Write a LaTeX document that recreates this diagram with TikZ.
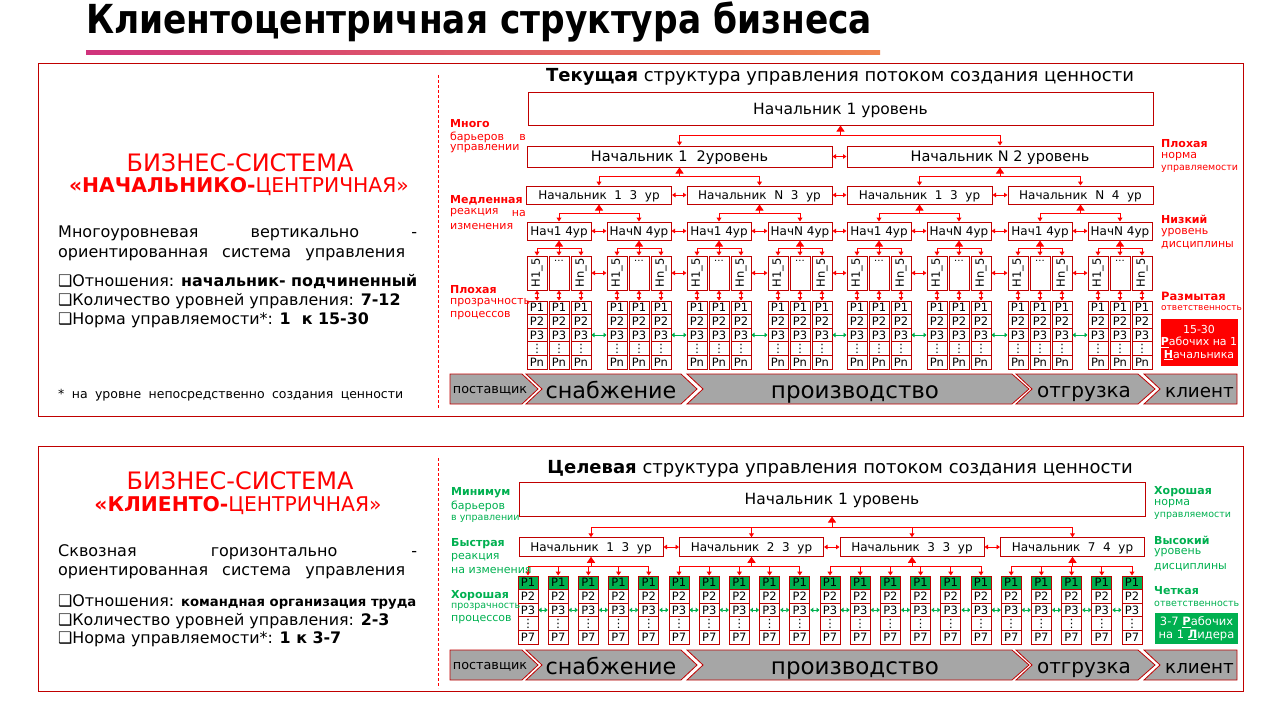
\documentclass[tikz,border=0pt]{standalone}
\usepackage{fontspec}
\setmainfont{DejaVu Sans}
\newfontfamily\ttlfont[FakeStretch=0.86]{DejaVu Sans}
\usetikzlibrary{arrows.meta}
\definecolor{dred}{HTML}{C00000}
\definecolor{bred}{HTML}{FF0000}
\definecolor{gr}{HTML}{00B050}
\definecolor{chev}{HTML}{A6A6A6}
\definecolor{gradA}{HTML}{D0337C}
\definecolor{gradB}{HTML}{F0844E}
\newcommand\fsz[1]{\fontsize{#1}{#1}\selectfont}
\begin{document}
\begin{tikzpicture}[x=1pt,y=-1pt,
  box/.style={draw=dred, line width=1pt, fill=white, inner sep=0pt, text=black, text depth=0pt},
  arr/.style={bred, line width=1pt, -{Triangle[width=5pt,length=4pt]}},
  uparr/.style={bred, line width=1pt, -{Triangle[width=8pt,length=6pt]}},
  dbl/.style={bred, line width=1pt, {Triangle[width=4.5pt,length=3.5pt]}-{Triangle[width=4.5pt,length=3.5pt]}},
  gdbl/.style={gr, line width=1pt, {Triangle[width=4.5pt,length=3pt]}-{Triangle[width=4.5pt,length=3pt]}},
  chevst/.style={draw=dred, line width=0.8pt, fill=chev},
  lab/.style={anchor=west, inner sep=0pt, font=\fontsize{11}{13}\selectfont},
  txt/.style={inner sep=0pt},
  ctxt/.style={inner sep=0pt, anchor=base}]
\useasboundingbox (0,0) rectangle (1280,720);

% ---------- title ----------
\node[txt, anchor=west, font=\ttlfont\bfseries\fsz{40}] (title) at (86,22) {Клиентоцентричная структура бизнеса};
\shade[left color=gradA, right color=gradB] (86,50.5) rectangle (880,54);

% ---------- panels ----------
\draw[dred, line width=1pt] (38,63) rectangle (1243,416);
\draw[dred, line width=1pt] (38,446) rectangle (1243,691);
\draw[bred, line width=0.8pt, dash pattern=on 3pt off 2pt] (438,75) -- (438,408);
\draw[bred, line width=0.8pt, dash pattern=on 3pt off 2pt] (438,458) -- (438,688);

% ---------- left texts top ----------
\node[txt, text=bred, font=\fsz{24}] (sysA) at (240,163) {БИЗНЕС-СИСТЕМА};
\node[txt, text=bred, font=\fsz{20.3}] (sysA2) at (239,187) {\textbf{«НАЧАЛЬНИКО-}ЦЕНТРИЧНАЯ»};
\node[txt, anchor=west, font=\fsz{16}] (dA1) at (58,233) {\makebox[359pt][s]{Многоуровневая вертикально -}};
\node[txt, anchor=west, font=\fsz{16}] (dA2) at (58,255) {\makebox[347pt][s]{ориентированная система управления}};
\node[txt, anchor=west, font=\fsz{15.9}] (lA1) at (58,282) {❑Отношения: \textbf{начальник- подчиненный}};
\node[txt, anchor=west, font=\fsz{15.9}] (lA2) at (58,301) {❑Количество уровней управления: \textbf{7-12}};
\node[txt, anchor=west, font=\fsz{15.9}] (lA3) at (58,320) {❑Норма управляемости*: \textbf{1~ к 15-30}};
\node[txt, anchor=west, font=\fsz{12.5}] (fnA) at (58,395) {\makebox[345pt][s]{* на уровне непосредственно создания ценности}};

% ---------- left texts bottom ----------
\node[txt, text=bred, font=\fsz{24}] (sysB) at (240,481) {БИЗНЕС-СИСТЕМА};
\node[txt, text=bred, font=\fsz{20.3}] (sysB2) at (238,506) {\textbf{«КЛИЕНТО-}ЦЕНТРИЧНАЯ»};
\node[txt, anchor=west, font=\fsz{16}] (dB1) at (58,552) {\makebox[359pt][s]{Сквозная горизонтально -}};
\node[txt, anchor=west, font=\fsz{16}] (dB2) at (58,573) {\makebox[347pt][s]{ориентированная система управления}};
\node[txt, anchor=west, font=\fsz{15.9}] (lB1) at (58,602) {❑Отношения: \textbf{\fsz{13.2}командная организация труда}};
\node[txt, anchor=west, font=\fsz{15.9}] (lB2) at (58,621) {❑Количество уровней управления: \textbf{2-3}};
\node[txt, anchor=west, font=\fsz{15.9}] (lB3) at (58,639) {❑Норма управляемости*: \textbf{1 к 3-7}};

% ================= TOP (current) structure =================
\node[txt, font=\fsz{18}, text depth=0pt] (ttlA) at (840,75) {\textbf{Текущая} структура управления потоком создания ценности};

\node[box, minimum width=625, minimum height=33, font=\fsz{15.5}] (A0) at (840.5,108.5) {Начальник 1 уровень};
\node[box, minimum width=305, minimum height=21, font=\fsz{14.5}] (A2-1) at (679.5,156.5) {Начальник 1~ 2уровень};
\node[box, minimum width=306, minimum height=21, font=\fsz{14.5}] (A2-2) at (1000,156.5) {Начальник N 2 уровень};
\draw[uparr] ([yshift=-10pt]A0.south) -- (A0.south);
\draw[arr] ([yshift=-10pt]A0.south) -| (A2-1.north);
\draw[arr] ([yshift=-10pt]A0.south) -| (A2-2.north);
\draw[dbl] (A2-1.east) -- (A2-2.west);

\foreach \cx/\t [count=\i] in {599/{Начальник~ 1~ 3~ ур},759.5/{Начальник~ N~ 3~ ур},919.5/{Начальник~ 1~ 3~ ур},1080.5/{Начальник~ N~ 4~ ур}}{
  \pgfmathtruncatemacro\pp{ceil(\i/2)}
  \node[box, minimum width=145, minimum height=18, font=\fsz{12}] (A3-\i) at (\cx,195) {\t};
  \draw[arr] ([yshift=-9pt]A2-\pp.south) -| (A3-\i.north);
  \draw[uparr] ([yshift=-9pt]A3-\i.south) -- (A3-\i.south);
}
\draw[uparr] ([yshift=-9pt]A2-1.south) -- (A2-1.south);
\draw[uparr] ([yshift=-9pt]A2-2.south) -- (A2-2.south);
\foreach \i [evaluate=\i as \n using int(\i+1)] in {1,2,3}{
  \draw[dbl] (A3-\i.east) -- (A3-\n.west);
}

\foreach \xo [count=\g] in {527,607,687,768,847,927,1008,1088}{
  \pgfmathtruncatemacro\pp{ceil(\g/2)}
  \pgfmathsetmacro\cx{\xo+32}
  \ifodd\g \def\lbl{Нач1 4ур}\else\def\lbl{НачN 4ур}\fi
  \node[box, minimum width=64, minimum height=18, font=\fsz{12}] (A4-\g) at (\cx,231) {\lbl};
  \draw[arr] ([yshift=-9pt]A3-\pp.south) -| (A4-\g.north);
  \draw[uparr] ([yshift=-8pt]A4-\g.south) -- (A4-\g.south);
  \foreach \k in {0,1,2}{
    \pgfmathsetmacro\hx{\xo+10+22*\k}
    \node[box, minimum width=20, minimum height=34, font=\fsz{11.5}] (H-\g-\k) at (\hx,273)
      {\ifcase\k \rotatebox{90}{H1\_5}\or \or \rotatebox{90}{Hn\_5}\fi};
    \draw[arr] ([yshift=-8pt]A4-\g.south) -| (H-\g-\k.north);
    \foreach \r/\t in {1/P1,2/P2,3/P3,4/⋮,5/Pn}{
      \pgfmathsetmacro\py{301+13.6*(\r-0.5)}
      \node[box, minimum width=20, minimum height=13.6, font=\fsz{11.5}] (P-\g-\k-\r) at (\hx,\py) {\t};
    }
    \draw[dbl] (H-\g-\k.south) -- (P-\g-\k-1.north);
  }
  \node[txt, anchor=north, font=\fsz{10}] (Hd-\g) at ([yshift=-5pt]H-\g-1.north) {...};
}
\foreach \g [evaluate=\g as \n using int(\g+1)] in {1,...,7}{
  \draw[dbl] (A4-\g.east) -- (A4-\n.west);
  \draw[dbl] (H-\g-2.east) -- (H-\n-0.west);
  \draw[gdbl] (P-\g-2-3.east) -- (P-\n-0-3.west);
}

% chevrons top
\draw[chevst] (450,374) -- (522,374) -- (538,389) -- (522,404) -- (450,404) -- cycle;
\draw[chevst] (526,374) -- (681,374) -- (697,389) -- (681,404) -- (526,404) -- (542,389) -- cycle;
\draw[chevst] (687,374) -- (1012,374) -- (1029,389) -- (1012,404) -- (687,404) -- (703,389) -- cycle;
\draw[chevst] (1016,374) -- (1138,374) -- (1155,389) -- (1138,404) -- (1016,404) -- (1032,389) -- cycle;
\draw[chevst] (1144,374) -- (1237,374) -- (1237,404) -- (1144,404) -- (1160,389) -- cycle;
\node[ctxt, font=\fsz{12.8}] (cA1) at (490,393.5) {поставщик};
\node[ctxt, font=\fsz{22.3}] (cA2) at (611,398) {снабжение};
\node[ctxt, font=\fsz{23}] (cA3) at (855,398) {производство};
\node[ctxt, font=\fsz{20}] (cA4) at (1084,397) {отгрузка};
\node[ctxt, font=\fsz{18.3}] (cA5) at (1199.5,397) {клиент};

% labels top (red)
\begin{scope}[every node/.style={lab, text=bred}]
\node (rl1) at (450,124) {\textbf{Много}};
\node (rl2) at (450,137) {барьеров};
\node[anchor=east] (rl3) at (526,137) {в};
\node (rl4) at (450,149) {управлении};
\node (rl5) at (450,200) {\textbf{Медленная}};
\node (rl6) at (450,213) {реакция};
\node[anchor=east] (rl7) at (526,213) {на};
\node (rl8) at (450,226) {изменения};
\node (rl9) at (450,290) {\textbf{Плохая}};
\node (rl10) at (450,303) {прозрачность};
\node (rl11) at (450,316) {процессов};
\node (rr1) at (1161,144) {\textbf{Плохая}};
\node (rr2) at (1161,157) {норма};
\node[font=\fsz{9.5}] (rr3) at (1161,169) {управляемости};
\node (rr4) at (1161,219) {\textbf{Низкий}};
\node (rr5) at (1161,233) {уровень};
\node (rr6) at (1161,245) {дисциплины};
\node[font=\fsz{11.5}] (rr7) at (1161,296) {\textbf{Размытая}};
\node[font=\fsz{9}] (rr8) at (1161,308) {ответственность};
\end{scope}
\node[fill=bred, minimum width=77, minimum height=47, inner sep=0pt, text=white, align=center,
  font=\fontsize{11}{12.5}\selectfont] (redbox) at (1199,342.5)
  {15-30\\\textbf{\underline{Р}}абочих на 1\\\textbf{\underline{Н}}ачальника};

% ================= BOTTOM (target) structure =================
\node[txt, font=\fsz{18}, text depth=0pt] (ttlB) at (840,467) {\textbf{Целевая} структура управления потоком создания ценности};
\node[box, minimum width=626, minimum height=34, font=\fsz{15.5}] (B0) at (832,499) {Начальник 1 уровень};
\draw[uparr] ([yshift=-11pt]B0.south) -- (B0.south);
\foreach \cx/\t [count=\i] in {591/{Начальник~ 1~ 3~ ур},751.5/{Начальник~ 2~ 3~ ур},912/{Начальник~ 3~ 3~ ур},1072.5/{Начальник~ 7~ 4~ ур}}{
  \node[box, minimum width=144, minimum height=18.5, font=\fsz{12}] (B2-\i) at (\cx,547) {\t};
  \draw[arr] ([yshift=-11pt]B0.south) -| (B2-\i.north);
  \draw[uparr] ([yshift=-10pt]B2-\i.south) -- (B2-\i.south);
}
\foreach \i [evaluate=\i as \n using int(\i+1)] in {1,2,3}{
  \draw[dbl] (B2-\i.east) -- (B2-\n.west);
}
\foreach \i in {0,...,20}{
  \pgfmathsetmacro\cx{528+30.2*\i}
  \pgfmathtruncatemacro\pp{\i<5 ? 1 : (\i<10 ? 2 : (\i<16 ? 3 : 4))}
  \foreach \r/\t in {1/P1,2/P2,3/P3,4/⋮,5/P7}{
    \pgfmathsetmacro\py{576+13.6*(\r-0.5)}
    \ifnum\r=1 \def\cf{gr}\else\def\cf{white}\fi
    \node[box, fill=\cf, minimum width=20, minimum height=13.6, font=\fsz{11.5}] (Q-\i-\r) at (\cx,\py) {\t};
  }
  \draw[arr] ([yshift=-10pt]B2-\pp.south) -| (Q-\i-1.north);
}
\foreach \i [evaluate=\i as \n using int(\i+1)] in {0,...,19}{
  \draw[gdbl] (Q-\i-3.east) -- (Q-\n-3.west);
}

% chevrons bottom
\draw[chevst] (450,650) -- (522,650) -- (538,665) -- (522,680) -- (450,680) -- cycle;
\draw[chevst] (526,650) -- (681,650) -- (697,665) -- (681,680) -- (526,680) -- (542,665) -- cycle;
\draw[chevst] (687,650) -- (1012,650) -- (1029,665) -- (1012,680) -- (687,680) -- (703,665) -- cycle;
\draw[chevst] (1016,650) -- (1138,650) -- (1155,665) -- (1138,680) -- (1016,680) -- (1032,665) -- cycle;
\draw[chevst] (1144,650) -- (1237,650) -- (1237,680) -- (1144,680) -- (1160,665) -- cycle;
\node[ctxt, font=\fsz{12.8}] (cB1) at (490,669.5) {поставщик};
\node[ctxt, font=\fsz{22.3}] (cB2) at (611,674) {снабжение};
\node[ctxt, font=\fsz{23}] (cB3) at (855,674) {производство};
\node[ctxt, font=\fsz{20}] (cB4) at (1084,673) {отгрузка};
\node[ctxt, font=\fsz{18.3}] (cB5) at (1199.5,673) {клиент};

% labels bottom (green)
\begin{scope}[every node/.style={lab, text=gr}]
\node (gl1) at (451,493) {\textbf{Минимум}};
\node (gl2) at (451,506) {барьеров};
\node[font=\fsz{9.5}] (gl3) at (451,519) {в управлении};
\node (gl4) at (451,544) {\textbf{Быстрая}};
\node (gl5) at (451,558) {реакция};
\node (gl6) at (451,570) {на изменения};
\node (gl7) at (451,596) {\textbf{Хорошая}};
\node[font=\fsz{9.5}] (gl8) at (451,607) {прозрачность};
\node (gl9) at (451,620) {процессов};
\node (gr1) at (1154,492) {\textbf{Хорошая}};
\node (gr2) at (1154,504) {норма};
\node[font=\fsz{9.5}] (gr3) at (1154,516) {управляемости};
\node (gr4) at (1154,540) {\textbf{Высокий}};
\node (gr5) at (1154,553) {уровень};
\node (gr6) at (1154,567) {дисциплины};
\node (gr7) at (1154,591) {\textbf{Четкая}};
\node[font=\fsz{9.5}] (gr8) at (1154,604) {ответственность};
\end{scope}
\node[fill=gr, minimum width=83, minimum height=31, inner sep=0pt, text=white, align=center,
  font=\fontsize{11.5}{12.5}\selectfont] (greenbox) at (1196.5,628.5)
  {3-7 \textbf{\underline{Р}}абочих\\на 1 \textbf{\underline{Л}}идера};
\end{tikzpicture}
\end{document}
